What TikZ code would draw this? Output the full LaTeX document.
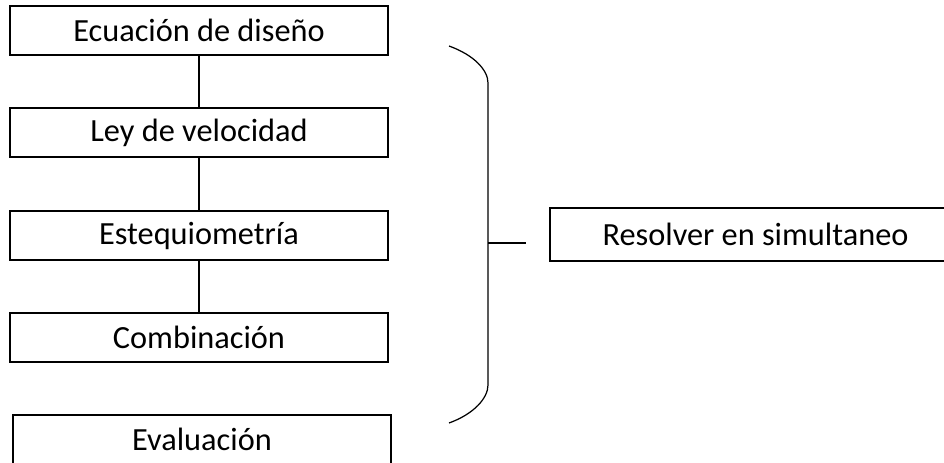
\documentclass[tikz,border=0pt]{standalone}
\usepackage{fontspec}
\setmainfont{Carlito}
\usepackage{tikz}
\usetikzlibrary{positioning, calc}

\tikzset{
    paso/.style={draw, line width=0.7pt, minimum width=7.56cm, minimum height=0.98cm, inner sep=0pt, font=\fontsize{18.4}{20}\selectfont},
    enlace/.style={line width=0.7pt}
}

\begin{document}
\begin{tikzpicture}[x=0.02cm, y=-0.02cm]
    \useasboundingbox (0,0) rectangle (944,463);
    \begin{scope}
    \clip (0,0) rectangle (944,463);

    \node[paso] (ecuacion) at (199,30.5) {Ecuación de diseño};
    \node[paso] (ley) at (199,132.5) {Ley de velocidad};
    \node[paso] (esteq) at (199,235.5) {Estequiometría};
    \node[paso] (comb) at (199,337.5) {Combinación};
    \node[paso] (eval) at (202,439.5) {Evaluación};

    \node[paso, minimum width=8.22cm, minimum height=1.06cm] (resolver) at (755.5,234.5) {Resolver en simultaneo};

    \draw[enlace] (ecuacion) -- (ley);
    \draw[enlace] (ley) -- (esteq);
    \draw[enlace] (esteq) -- (comb);
    \draw[enlace] ($(comb.south)+(1,0)$) -- ($(comb.south)+(1,0)$ |- eval.north);

    % llave
    \coordinate (llave) at (488,243);
    \coordinate (punta) at (526,243);
    \draw[enlace] (449,46) .. controls (474,55) and (488,70) .. (488,83)
        -- (488,385) .. controls (488,398) and (474,414) .. (449,423);
    \draw[enlace] (llave) -- (punta);
    \end{scope}
\end{tikzpicture}
\end{document}
